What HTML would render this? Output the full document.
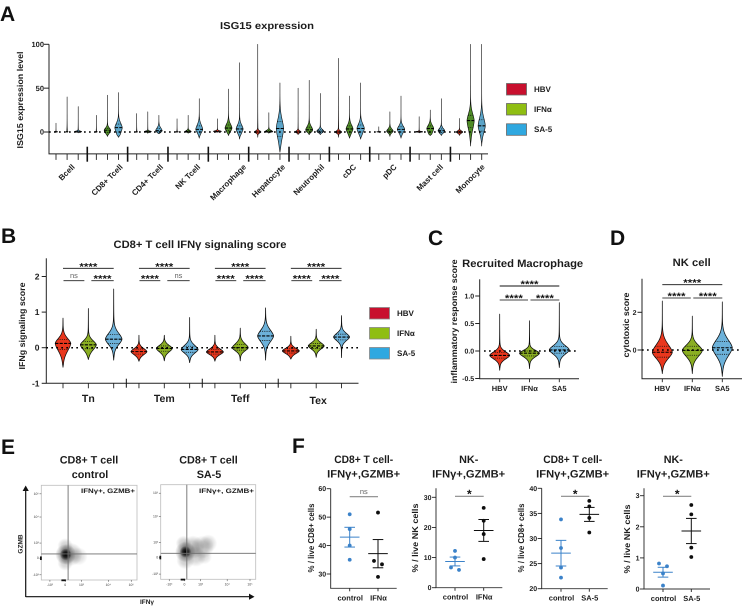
<!DOCTYPE html>
<html lang="en">
<head>
<meta charset="utf-8">
<title>ISG15 and CD8+ T cell figure</title>
<style>
html,body{margin:0;padding:0;background:#fff;width:742px;height:608px;overflow:hidden}
svg{display:block;filter:blur(.3px);text-rendering:geometricPrecision}
text{font-family:"Liberation Sans",Arial,sans-serif;fill:#1c1c1c}
.b{font-weight:bold}
.letter{font-size:21px;font-weight:bold;fill:#111}
.title{font-size:10.8px;font-weight:bold}
.ytitle{font-size:8.5px;font-weight:bold;text-anchor:middle}
.leg{font-size:8px;font-weight:bold}
</style>
</head>
<body>
<svg id="fig" width="742" height="608" viewBox="0 0 742 608" xmlns="http://www.w3.org/2000/svg">
  <defs>
    <radialGradient id="flow-g">
      <stop offset="0" stop-color="#000" stop-opacity="1"/>
      <stop offset=".5" stop-color="#000" stop-opacity=".7"/>
      <stop offset="1" stop-color="#000" stop-opacity="0"/>
    </radialGradient>
    <clipPath id="clip-e1"><rect x="41.3" y="485.3" width="95.7" height="94.7"/></clipPath>
    <clipPath id="clip-e2"><rect x="160.7" y="484.7" width="95" height="94.6"/></clipPath>
  </defs>

  <g id="panel-a">
    <text class="letter" x="0" y="21">A</text>
    <text class="b" x="267" y="29" font-size="10" text-anchor="middle" textLength="94" lengthAdjust="spacingAndGlyphs">ISG15 expression</text>
    <text class="ytitle" transform="translate(23,100) rotate(-90)" textLength="97" lengthAdjust="spacingAndGlyphs">ISG15 expression level</text>
    <g>
      <rect x="506.5" y="83.5" width="20" height="11.5" fill="#c8102e" stroke="#666" stroke-width=".8"/>
      <text class="leg" x="534" y="92">HBV</text>
      <rect x="506.5" y="103.5" width="20" height="11.5" fill="#8fbe12" stroke="#666" stroke-width=".8"/>
      <text class="leg" x="534" y="112">IFNα</text>
      <rect x="506.5" y="123.8" width="20" height="11.5" fill="#2fa8e0" stroke="#666" stroke-width=".8"/>
      <text class="leg" x="534" y="132">SA-5</text>
    </g>
  </g>

  <g id="panel-b">
    <text class="letter" x="1" y="243">B</text>
    <text class="title" x="200" y="248" text-anchor="middle" textLength="173" lengthAdjust="spacingAndGlyphs">CD8+ T cell IFNγ signaling score</text>
    <text class="ytitle" transform="translate(25,326) rotate(-90)" textLength="87" lengthAdjust="spacingAndGlyphs">IFNg signaling score</text>
    <g>
      <rect x="369.5" y="307.5" width="20" height="11.5" fill="#c8102e" stroke="#888" stroke-width=".8"/>
      <text class="leg" x="397" y="316">HBV</text>
      <rect x="369.5" y="327.5" width="20" height="11.5" fill="#8fbe12" stroke="#888" stroke-width=".8"/>
      <text class="leg" x="397" y="336">IFNα</text>
      <rect x="369.5" y="347.5" width="20" height="11.5" fill="#2fa8e0" stroke="#888" stroke-width=".8"/>
      <text class="leg" x="397" y="356">SA-5</text>
    </g>
  </g>

  <g id="panel-c">
    <text class="letter" x="428" y="245">C</text>
    <text class="title" x="522.7" y="267" text-anchor="middle" textLength="121" lengthAdjust="spacingAndGlyphs">Recruited Macrophage</text>
    <text class="ytitle" transform="translate(457,321.5) rotate(-90)" textLength="124" lengthAdjust="spacingAndGlyphs">inflammatory response score</text>
  </g>

  <g id="panel-d">
    <text class="letter" x="610" y="245">D</text>
    <text class="title" x="691.7" y="266" text-anchor="middle" textLength="38" lengthAdjust="spacingAndGlyphs">NK cell</text>
    <text class="ytitle" transform="translate(629,325) rotate(-90)" textLength="65" lengthAdjust="spacingAndGlyphs">cytotoxic score</text>
  </g>

  <g id="panel-e">
    <text class="letter" x="1" y="454">E</text>
    <text class="title" x="89" y="463.5" text-anchor="middle">CD8+ T cell</text>
    <text class="title" x="90" y="478" text-anchor="middle">control</text>
    <text class="title" x="208.5" y="463.5" text-anchor="middle">CD8+ T cell</text>
    <text class="title" x="209" y="478" text-anchor="middle">SA-5</text>
    <g id="flow-left"></g>
    <g id="flow-right"></g>
    <text class="b" x="135" y="493" font-size="6.5" text-anchor="end" textLength="54" lengthAdjust="spacingAndGlyphs">IFNγ+, GZMB+</text>
    <text class="b" x="254" y="493" font-size="6.5" text-anchor="end" textLength="55" lengthAdjust="spacingAndGlyphs">IFNγ+, GZMB+</text>
    <path d="M25.7 597V490" stroke="#111" stroke-width="1.2" fill="none"/>
    <path d="M22.6 491L25.7 485.5L28.8 491Z" fill="#111"/>
    <path d="M25.7 596.7H250" stroke="#111" stroke-width="1.2" fill="none"/>
    <path d="M249 593.6L254.5 596.7L249 599.8Z" fill="#111"/>
    <text class="b" transform="translate(22.5,544) rotate(-90)" font-size="6.5" text-anchor="middle">GZMB</text>
    <text class="b" x="147" y="604" font-size="6.5" text-anchor="middle">IFNγ</text>
  </g>

  <g id="panel-f">
    <text class="letter" x="292" y="453">F</text>
    <text class="title" x="363.7" y="463" text-anchor="middle" textLength="59" lengthAdjust="spacingAndGlyphs">CD8+ T cell-</text>
    <text class="title" x="363.7" y="477.5" text-anchor="middle" textLength="73" lengthAdjust="spacingAndGlyphs">IFNγ+,GZMB+</text>
    <text class="title" x="468.7" y="463" text-anchor="middle">NK-</text>
    <text class="title" x="468.7" y="477.5" text-anchor="middle" textLength="73" lengthAdjust="spacingAndGlyphs">IFNγ+,GZMB+</text>
    <text class="title" x="572.7" y="463" text-anchor="middle" textLength="59" lengthAdjust="spacingAndGlyphs">CD8+ T cell-</text>
    <text class="title" x="572.7" y="477.5" text-anchor="middle" textLength="73" lengthAdjust="spacingAndGlyphs">IFNγ+,GZMB+</text>
    <text class="title" x="673.3" y="463" text-anchor="middle">NK-</text>
    <text class="title" x="673.3" y="477.5" text-anchor="middle" textLength="73" lengthAdjust="spacingAndGlyphs">IFNγ+,GZMB+</text>
  </g>
</svg>

<script>
/* ---------- Panel A data: one triple per group = [HBV, IFNa, SA-5] ---------- */
const isgGroups = ['Bcell','CD8+ Tcell','CD4+ Tcell','NK Tcell','Macrophage','Hepatocyte','Neutrophil','cDC','pDC','Mast cell','Monocyte'];
const isgTicks = [0, 50, 100];
const isgMax = [[10,40,29],[19,42,45],[21,23,19],[15,19,38],[15,49,79],[100,22,56],[50,59,44],[84,41,56],[6,23,41],[17.5,25,38],[15.5,100,100]];
const isgMin = [[0,0,-1],[0,-5,-6],[0,-1.5,-2],[0,-1.5,-7],[0,-4,-8],[-6,-1.5,-23],[-3,-3,-3],[-6,-7,-8],[0,-5,-7],[-1,-4,-4],[-4,-16,-16]];
const isgQ1 = [[0,0,0],[0,-.5,0],[0,0,0],[0,0,0],[0,1.5,0],[-1,0,-5],[-1,0,-.5],[-1,0,0],[0,-.5,0],[0,0,-.5],[-1,5,1]];
const isgMedian = [[0,0,.2],[0,2,5],[0,.5,1.5],[0,.5,3],[.3,4.5,3.5],[0,.3,4],[0,2.5,1],[0,3.5,4],[0,1,3],[.2,4,1.5],[0,13,7]];
const isgQ3 = [[.2,.3,.8],[.2,4,9],[.2,1,4],[.2,1.5,7],[1,8,7],[1,1.5,12],[1,5.5,2.5],[1,7,8],[.2,3,6],[.6,7,3.5],[1,19,14]];
const isgDensity = [[5,5,4],[5,3.3,3.7],[5,3.5,3.3],[5,3,3.5],[5,3.5,3.5],[3.3,4,3.7],[3,3.5,3.5],[3.3,3.5,3.7],[4,3.3,3.7],[3.5,3.5,3.3],[3.3,3.6,3.6]];

/* ---------- Panel B data ---------- */
const ifngGroups = ['Tn','Tem','Teff','Tex'];
const ifngTicks = [-1, 0, 1, 2];
const ifngMax = [[.83,1.1,1.65],[.35,.35,.85],[.35,.55,1.12],[.32,.52,.9]];
const ifngMin = [[-.55,-.33,-.35],[-.38,-.37,-.42],[-.38,-.37,-.35],[-.32,-.27,-.28]];
const ifngQ1 = [[-.05,-.03,.12],[-.18,-.1,-.13],[-.18,-.07,.2],[-.15,-.02,.22]];
const ifngMedian = [[.12,.08,.24],[-.11,-.02,-.05],[-.12,0,.33],[-.09,.05,.3]];
const ifngQ3 = [[.23,.17,.37],[-.04,.05,.04],[-.05,.09,.46],[-.03,.12,.38]];
const ifngDensity = [[7.8,8,8.3],[8,8,8.5],[8.5,8,8],[8.5,8,8]];
const ifngSigPair12 = ['ns','****','****','****'];
const ifngSigPair23 = ['****','ns','****','****'];

/* ---------- Panel C data ---------- */
const macCategories = ['HBV','IFNα','SA5'];
const macTicks = [-0.5, 0.0, 0.5, 1.0];
const macMax = [.67,.55,.88];
const macMin = [-.35,-.32,-.3];
const macQ1 = [-.13,-.09,-.04];
const macMedian = [-.08,-.04,.02];
const macQ3 = [-.03,0,.08];
const macDensity = [10,10,10];

/* ---------- Panel D data ---------- */
const nkCategories = ['HBV','IFNα','SA5'];
const nkTicks = [0, 2];
const nkMax = [2.6,1.8,2.55];
const nkMin = [-1.25,-1.25,-1.4];
const nkQ1 = [-.38,-.28,-.23];
const nkMedian = [-.12,-.02,.12];
const nkQ3 = [.2,.2,.45];
const nkDensity = [10,10,10];

/* ---------- Panel E data: density clusters, in % of plot width / height ---------- */
const controlClusterX = [25.5,25.5,31,39,25,25];
const controlClusterY = [27,27,27,25,36,18];
const controlClusterWeight = [1,.5,.28,.15,.2,.2];
const controlClusterSpread = [4.5,8,9,7,6,6];
const sa5ClusterX = [26,26,34,44,50,26,37,24,46];
const sa5ClusterY = [29,29,34,34,38,20,24,38,24];
const sa5ClusterWeight = [1,.5,.28,.22,.18,.22,.2,.22,.14];
const sa5ClusterSpread = [4.5,8,9,9,7,7,8,6,6];
const flowTickLabelsY = ['10⁵','10⁴','10³','0','-10³'];
const flowTickPctY = [91,66.5,39,23,5.5];
const flowTickLabelsX = ['-10³','0','10³','10⁴','10⁵'];
const flowTickPctX = [9,25,42,70,94];

/* ---------- Panel F data ---------- */
const f1Ticks = [30,40,50,60];
const f1Groups = ['control','IFNα'];
const f1Control = [51,45.8,40,35];
const f1Treated = [51.6,34.6,33.4,29];
const f2Ticks = [0,10,20,30];
const f2Groups = ['control','IFNα'];
const f2Control = [12.2,10,6.7,5.9];
const f2Treated = [26.5,22.2,17.8,9.5];
const f3Ticks = [20,25,30,35,40];
const f3Groups = ['control','SA-5'];
const f3Control = [33.8,28.1,24.2,22.2];
const f3Treated = [37.5,36.4,34.1,31.2];
const f4Ticks = [0,1,2,3];
const f4Groups = ['control','SA-5'];
const f4Control = [.82,.73,.5,.11];
const f4Treated = [2.7,2.4,1.33,1.03];

/* ---------- Helpers ---------- */
const NS = 'http://www.w3.org/2000/svg';
function mk(parent, tag, attrs) {
  const el = document.createElementNS(NS, tag);
  for (const k in attrs) el.setAttribute(k, attrs[k]);
  parent.appendChild(el);
  return el;
}
function line(parent, x1, y1, x2, y2, color, width, dash) {
  const el = mk(parent, 'line', {x1, y1, x2, y2, stroke: color, 'stroke-width': width});
  if (dash) el.setAttribute('stroke-dasharray', dash);
  return el;
}
function label(parent, x, y, str, size, anchor, weight, color) {
  const el = mk(parent, 'text', {x, y, 'font-size': size, 'text-anchor': anchor || 'start', 'font-weight': weight || 'bold'});
  if (color) el.style.fill = color;
  el.textContent = str;
  return el;
}
function linear(d0, d1, r0, r1) {
  return v => r0 + (v - d0) / (d1 - d0) * (r1 - r0);
}
function halfWidth(v, s) {
  const range = s.max - s.min;
  const d = v - s.med;
  const side = d > 0 ? s.q3 - s.med : s.med - s.q1;
  const sigma = Math.max(side * 1.48, range * 0.012);
  const core = Math.exp(-0.65 * Math.pow(Math.abs(d / sigma), 1.8));
  const tail = Math.exp(-Math.abs(d) / (range / s.tailRate));
  const edge = Math.min(1, Math.min(s.max - v, v - s.min) / (range * 0.06) + 0.12);
  const tw = s.tailWeight;
  return s.peak * ((1 - tw) * core + tw * tail) * edge;
}
function drawViolin(parent, cx, y, s, fill, strokeW) {
  const g = mk(parent, 'g', {});
  
  
  const N = 140;
  let right = '', left = '';
  for (let i = 0; i <= N; i++) {
    const v = s.max - (s.max - s.min) * i / N;
    const w = halfWidth(v, s);
    right += (i ? 'L' : 'M') + (cx + w).toFixed(2) + ' ' + y(v).toFixed(2);
    left = 'L' + (cx - w).toFixed(2) + ' ' + y(v).toFixed(2) + left;
  }
  const body = mk(g, 'path', {d: right + left + 'Z', fill: fill, stroke: '#0c0c0c', 'stroke-width': strokeW, 'stroke-linejoin': 'round'});
  
  
  const w1 = halfWidth(s.q1, s), w2 = halfWidth(s.med, s), w3 = halfWidth(s.q3, s);
  const q1Line = line(g, cx - w1, y(s.q1), cx + w1, y(s.q1), '#111', 0.8, '1 1.2');
  
  
  const q3Line = line(g, cx - w3, y(s.q3), cx + w3, y(s.q3), '#111', 0.8, '1 1.2');
  
  
  const medLine = line(g, cx - w2, y(s.med), cx + w2, y(s.med), '#000', 1.1, '3.2 1.2');
  
  
}
function sigBracket(parent, x1, x2, yy, sig, color, width) {
  const l = line(parent, x1, yy, x2, yy, color, width);
  
  
  const cx = (x1 + x2) / 2;
  let t;
  if (sig === 'ns') {
    t = label(parent, cx, yy - 2.5, 'ns', 7.5, 'middle', 'normal', '#666');
  } else {
    t = label(parent, cx, yy + 1.5, sig, sig.length > 1 ? 10 : 12, 'middle', 'bold', '#111');
    if (sig.length > 1) {
      t.setAttribute('textLength', 18);
      t.setAttribute('lengthAdjust', 'spacingAndGlyphs');
    }
  }
  
  
}

const fills = ['#e9371d', '#8aae22', '#6cb1d9'];

/* ---------- Panel A ---------- */
(function () {
  const root = document.getElementById('panel-a');
  const y = linear(0, 100, 132, 44.3);
  const x = (g, k) => 56 + 40.35 * g + 11.1 * k;
  const colsA = ['#e5351c', '#4e8b26', '#5ba4c8'];
  const axes = mk(root, 'g', {});
  
  
  const yAxis = line(axes, 49, y(100), 49, y(-25), '#222', 1);
  
  
  const xAxis = line(axes, 48.5, y(-25), 488, y(-25), '#222', 1);
  
  
  isgTicks.forEach(t => {
    const tk = line(axes, 44, y(t), 49, y(t), '#222', 1);
    
    
    const tl = label(axes, 44, y(t) + 2.6, String(t), 7.5, 'end');
    
    
  });
  isgGroups.forEach((name, g) => {
    for (let k = 0; k < 3; k++) {
      const tk = line(axes, x(g, k), y(-25), x(g, k), y(-25) + 6, '#222', 0.9);
      
      
      drawViolin(root, x(g, k), y, {
        max: isgMax[g][k], min: isgMin[g][k], q1: isgQ1[g][k],
        med: isgMedian[g][k], q3: isgQ3[g][k], peak: isgDensity[g][k],
        tailWeight: 0.09, tailRate: 9
      }, colsA[k], 0.6);
    }
    if (g < isgGroups.length - 1) {
      const sx = (x(g, 2) + x(g + 1, 0)) / 2;
      const sep = line(axes, sx, 146.7, sx, 161.7, '#111', 1.6);
      
      
    }
    const t = label(axes, 0, 0, name, 8, 'end');
    
    
    const w = t.getComputedTextLength();
    const lx = x(g, 1) + w * 0.354 + 1.5, ly = 167.5;
    t.setAttribute('x', lx);
    t.setAttribute('y', ly);
    t.setAttribute('transform', 'rotate(-45 ' + lx + ' ' + ly + ')');
  });
  const zero = line(root, 49, y(0), 488, y(0), '#000', 1.5, '1.7 3.3');
  
  
})();

/* ---------- Panel B ---------- */
(function () {
  const root = document.getElementById('panel-b');
  const y = linear(0, 1, 347.7, 312.1);
  const x = (g, k) => 63 + 75.95 * g + 25.35 * k;
  const axes = mk(root, 'g', {});
  
  
  const yAxis = line(axes, 46.3, 258.3, 46.3, y(-1), '#222', 1);
  
  
  const xAxis = line(axes, 45.8, y(-1), 358.5, y(-1), '#222', 1);
  
  
  ifngTicks.forEach(t => {
    const tk = line(axes, 41.7, y(t), 46.3, y(t), '#222', 1);
    
    
    const tl = label(axes, 39.5, y(t) + 3, String(t), 8.5, 'end');
    
    
  });
  ifngGroups.forEach((name, g) => {
    for (let k = 0; k < 3; k++) {
      const tk = line(axes, x(g, k), y(-1), x(g, k), y(-1) + 5, '#222', 0.9);
      
      
      drawViolin(root, x(g, k), y, {
        max: ifngMax[g][k], min: ifngMin[g][k], q1: ifngQ1[g][k],
        med: ifngMedian[g][k], q3: ifngQ3[g][k], peak: ifngDensity[g][k],
        tailWeight: 0.12, tailRate: 6
      }, fills[k], 0.75);
    }
    if (g < ifngGroups.length - 1) {
      const sx = (x(g, 2) + x(g + 1, 0)) / 2;
      const sep = line(axes, sx, 378.7, sx, 387.7, '#111', 1);
      
      
    }
    const gl = label(axes, x(g, 1) + (g === 3 ? 2 : 0), g === 3 ? 404 : 402, name, 10.5, 'middle');
    
    
    sigBracket(root, x(g, 0), x(g, 2), 268.3, '****', '#111', 0.9);
    sigBracket(root, x(g, 0) + 0.5, x(g, 1) - 4, 280.7, ifngSigPair12[g], '#222', 0.9);
    sigBracket(root, x(g, 1) + 3, x(g, 2), 280.7, ifngSigPair23[g], '#222', 0.9);
  });
  const zero = line(root, 46.3, y(0), 358.5, y(0), '#000', 1.5, '1.7 3.3');
  
  
})();

/* ---------- Panels C and D ---------- */
function drawThree(rootId, cfg) {
  const root = document.getElementById(rootId);
  const y = cfg.y, x = k => cfg.x0 + cfg.dx * k;
  const yAxis = line(root, cfg.ax, cfg.top, cfg.ax, cfg.bottom, '#222', 1);
  
  
  const xAxis = line(root, cfg.ax - 0.5, cfg.bottom, cfg.right, cfg.bottom, '#222', 1);
  
  
  cfg.ticks.forEach(t => {
    const tk = line(root, cfg.ax - 4.5, y(t), cfg.ax, y(t), '#222', 1);
    
    
    const tl = label(root, cfg.ax - 5.5, y(t) + 2.5, cfg.fmt(t), 7, 'end');
    
    
  });
  cfg.cats.forEach((c, k) => {
    const tk = line(root, x(k), cfg.bottom, x(k), cfg.bottom + 3.5, '#222', 0.9);
    
    
    drawViolin(root, x(k), y, {
      max: cfg.max[k], min: cfg.min[k], q1: cfg.q1[k], med: cfg.med[k], q3: cfg.q3[k], peak: cfg.peak[k],
      tailWeight: 0.1, tailRate: 7
    }, fills[k], 0.75);
    const cl = label(root, x(k), cfg.bottom + 12.5, c, 7.5, 'middle');
    
    
  });
  const zero = line(root, cfg.zeroStart, y(0), cfg.zeroEnd, y(0), '#000', 1.5, '1.7 3.3');
  
  
  sigBracket(root, x(0), x(2), cfg.bTop, '****', '#111', 0.9);
  sigBracket(root, x(0), x(1) - 1.5, cfg.bLow, '****', '#444', 1.1);
  sigBracket(root, x(1) + 1, x(2), cfg.bLow, '****', '#444', 1.1);
}
drawThree('panel-c', {
  y: linear(0, 1, 351, 296), x0: 499.7, dx: 29.8, ax: 479.7, top: 279.3, bottom: 378.7, right: 579,
  zeroStart: 484, zeroEnd: 579, bTop: 286, bLow: 300, ticks: macTicks, cats: macCategories,
  fmt: t => t.toFixed(1), max: macMax, min: macMin, q1: macQ1, med: macMedian, q3: macQ3, peak: macDensity
});
drawThree('panel-d', {
  y: linear(0, 2, 350, 312.3), x0: 662.3, dx: 30, ax: 642, top: 278.7, bottom: 378.7, right: 742,
  zeroStart: 642, zeroEnd: 742, bTop: 284.7, bLow: 298, ticks: nkTicks, cats: nkCategories,
  fmt: t => String(t), max: nkMax, min: nkMin, q1: nkQ1, med: nkMedian, q3: nkQ3, peak: nkDensity
});

/* ---------- Panel E ---------- */
function drawFlow(rootId, box, clipId, gateX, gateY, cx, cy, cw, cs) {
  const root = document.getElementById(rootId);
  const px = linear(0, 100, box.x, box.x + box.w);
  const py = linear(0, 100, box.y + box.h, box.y);
  const density = mk(root, 'g', {'clip-path': 'url(#' + clipId + ')'});
  
  
  cx.forEach((v, i) => {
    const c = mk(density, 'circle', {cx: px(v), cy: py(cy[i]), r: cs[i] * box.w / 100 * 1.35, fill: 'url(#flow-g)', opacity: cw[i]});
    
    
  });
  const frame = mk(root, 'rect', {x: box.x, y: box.y, width: box.w, height: box.h, fill: 'none', stroke: '#bdbdbd', 'stroke-width': 0.8});
  
  
  const gv = line(root, px(gateX), box.y, px(gateX), box.y + box.h, '#6d6d6d', 0.9);
  
  
  const gh = line(root, box.x, py(gateY), box.x + box.w, py(gateY), '#6d6d6d', 0.9);
  
  
  flowTickLabelsY.forEach((s, i) => {
    const tk = line(root, box.x - 1.8, py(flowTickPctY[i]), box.x, py(flowTickPctY[i]), '#555', 0.6);
    
    
    const t = label(root, box.x - 2.5, py(flowTickPctY[i]) + 1, s, 3.4, 'end', 'normal', '#444');
    
    
  });
  flowTickLabelsX.forEach((s, i) => {
    const tk = line(root, px(flowTickPctX[i]), box.y + box.h, px(flowTickPctX[i]), box.y + box.h + 1.8, '#555', 0.6);
    
    
    const t = label(root, px(flowTickPctX[i]), box.y + box.h + 6, s, 3.4, 'middle', 'normal', '#444');
    
    
  });
  const s1 = mk(root, 'rect', {x: box.x - 1.3, y: py(23) - 1.8, width: 1.8, height: 3.6, fill: '#111'});
  
  
  const s2 = mk(root, 'rect', {x: px(21), y: box.y + box.h - 0.6, width: 4.5, height: 1.8, fill: '#111'});
  
  
}
drawFlow('flow-left', {x: 41.3, y: 485.3, w: 95.7, h: 94.7}, 'clip-e1', 28, 27.5,
  controlClusterX, controlClusterY, controlClusterWeight, controlClusterSpread);
drawFlow('flow-right', {x: 160.7, y: 484.7, w: 95, h: 94.6}, 'clip-e2', 27.5, 27.5,
  sa5ClusterX, sa5ClusterY, sa5ClusterWeight, sa5ClusterSpread);

/* ---------- Panel F ---------- */
function drawScatter(cfg) {
  const root = document.getElementById('panel-f');
  const g = mk(root, 'g', {});
  
  
  const y = cfg.y;
  const yAxis = line(g, cfg.ax, cfg.top, cfg.ax, cfg.bottom, '#222', 0.9);
  
  
  const xAxis = line(g, cfg.ax - 0.5, cfg.bottom, cfg.right, cfg.bottom, '#333', 0.9);
  
  
  cfg.ticks.forEach(t => {
    const tk = line(g, cfg.ax - 4, y(t), cfg.ax, y(t), '#222', 0.9);
    
    
    const tl = label(g, cfg.ax - 4.5, y(t) + 2.5, String(t), 7, 'end');
    
    
  });
  const yt = mk(g, 'text', {class: 'ytitle', transform: 'translate(' + cfg.tx + ',' + cfg.ty + ') rotate(-90)', textLength: 69, lengthAdjust: 'spacingAndGlyphs'});
  yt.textContent = cfg.yLabel;
  
  
  [cfg.control, cfg.treated].forEach((vals, k) => {
    const cx = cfg.xs[k];
    const color = k === 0 ? '#3b82c9' : '#0e0e0e';
    const tk = line(g, cx, cfg.bottom, cx, cfg.bottom + 3, '#222', 0.9);
    
    
    const cl = label(g, cx + 0.5, cfg.bottom + 12, cfg.groups[k], 7.5, 'middle');
    
    
    const n = vals.length;
    const mean = vals.reduce((a, b) => a + b, 0) / n;
    const sd = Math.sqrt(vals.reduce((a, b) => a + (b - mean) * (b - mean), 0) / (n - 1));
    const sem = sd / Math.sqrt(n);
    const errBar = line(g, cx, y(mean + sem), cx, y(mean - sem), color, 1);
    
    
    const capHi = line(g, cx - 5.3, y(mean + sem), cx + 5.3, y(mean + sem), color, 1);
    
    
    const capLo = line(g, cx - 5.3, y(mean - sem), cx + 5.3, y(mean - sem), color, 1);
    
    
    const meanBar = line(g, cx - 9.8, y(mean), cx + 9.8, y(mean), color, 1);
    
    
    const ordered = vals.slice().sort((a, b) => b - a);
    const used = {};
    ordered.forEach((v, i) => {
      let off = 0;
      if (i + 1 < n && Math.abs(y(ordered[i + 1]) - y(v)) < 5) off = -4;
      else if (i > 0 && used[i - 1] === -4) off = 4;
      used[i] = off;
      const dot = mk(g, 'circle', {cx: cx + off, cy: y(v), r: 1.9, fill: color});
      
      
    });
  });
  sigBracket(g, cfg.xs[0], cfg.xs[1], cfg.bracket, cfg.sig, '#888', 1.1);
}
drawScatter({
  y: linear(30, 60, 574, 488.7), ticks: f1Ticks, groups: f1Groups, control: f1Control, treated: f1Treated,
  ax: 330.7, top: 488.7, bottom: 588.3, right: 396.7, xs: [349.7, 378], bracket: 496.7, sig: 'ns',
  tx: 314, ty: 538, yLabel: '% / live CD8+ cells'
});
drawScatter({
  y: linear(0, 30, 587.7, 497.3), ticks: f2Ticks, groups: f2Groups, control: f2Control, treated: f2Treated,
  ax: 436, top: 488.3, bottom: 587.7, right: 502.3, xs: [455, 483.7], bracket: 496.3, sig: '*',
  tx: 418, ty: 538, yLabel: '% / live NK cells'
});
drawScatter({
  y: linear(20, 40, 588.7, 488.3), ticks: f3Ticks, groups: f3Groups, control: f3Control, treated: f3Treated,
  ax: 541.7, top: 488.3, bottom: 588.7, right: 607.7, xs: [561, 589.3], bracket: 496.3, sig: '*',
  tx: 524, ty: 538, yLabel: '% / live CD8+ cells'
});
drawScatter({
  y: linear(0, 3, 589, 495.7), ticks: f4Ticks, groups: f4Groups, control: f4Control, treated: f4Treated,
  ax: 644, top: 488.3, bottom: 589, right: 710, xs: [663, 691.3], bracket: 496.3, sig: '*',
  tx: 630, ty: 539, yLabel: '% / live NK cells'
});
</script>
</body>
</html>
